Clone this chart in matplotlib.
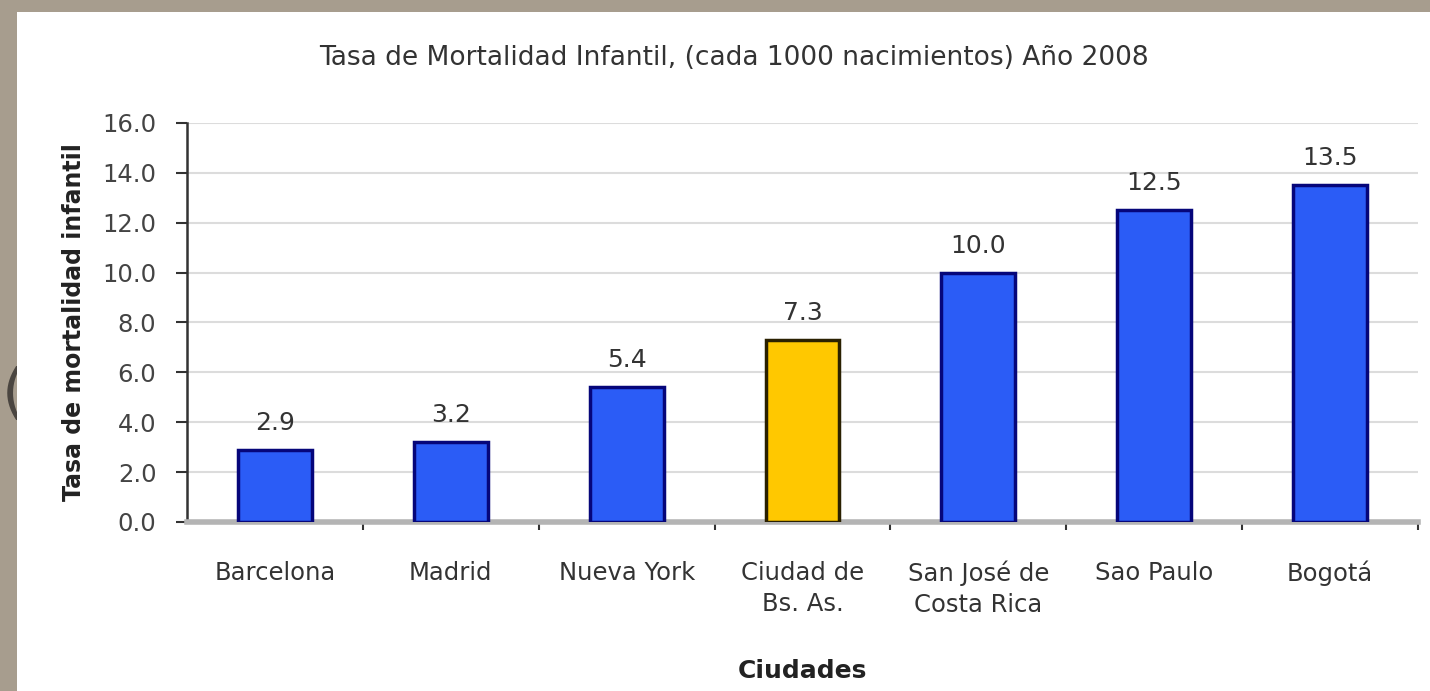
import matplotlib
matplotlib.use("Agg")
import matplotlib.pyplot as plt
from matplotlib.patches import Rectangle
from matplotlib.ticker import FixedLocator

# Data
ciudades = ["Barcelona", "Madrid", "Nueva York", "Ciudad de\nBs. As.",
            "San José de\nCosta Rica", "Sao Paulo", "Bogotá"]
tasas = [2.9, 3.2, 5.4, 7.3, 10.0, 12.5, 13.5]
destacada = "Ciudad de\nBs. As."

plt.rcParams['font.family'] = ['DejaVu Sans']

fig = plt.figure(figsize=(14.3, 6.91), dpi=100)
fig.patch.set_facecolor('#a79d8e')

# white slide panel
fig.patches.append(Rectangle((17 / 1430, 0), 1, (691 - 12) / 691,
                             transform=fig.transFigure, facecolor='white',
                             edgecolor='none', zorder=-5))
fig.text(0.001, 0.428, "(", fontsize=44, color='#4a4540', va='center',
         zorder=-6)

ax = fig.add_axes([0.1308, 0.2446, 0.8608, 0.5774])
ax.set_facecolor('none')

colores = ['#ffc800' if c == destacada else '#2b5cf6' for c in ciudades]
bordes = ['#2a2000' if c == destacada else '#06067a' for c in ciudades]
x = range(len(ciudades))
bars = ax.bar(x, tasas, width=0.42, color=colores, edgecolor=bordes,
              linewidth=2.5, zorder=3)

for xi, v in zip(x, tasas):
    ax.text(xi, v + 0.6, f"{v:.1f}", ha='center', va='bottom',
            fontsize=18, color='#333333')

ax.set_xlim(-0.5, len(ciudades) - 0.5)
ax.set_ylim(0, 16)
ax.set_yticks([i * 2 for i in range(9)])
ax.set_yticklabels([f"{i * 2:.1f}" for i in range(9)], fontsize=17.5,
                   color='#444444')
ax.yaxis.grid(True, color='#dcdcdc', linewidth=1.5, zorder=0)
ax.set_axisbelow(True)

ax.set_xticks(list(x))
ax.set_xticklabels(ciudades, fontsize=17.5, color='#333333', linespacing=1.35)
ax.tick_params(axis='x', which='major', length=0, pad=28)
ax.xaxis.set_minor_locator(FixedLocator([i + 0.5 for i in range(len(ciudades))]))
ax.tick_params(axis='x', which='minor', length=6, width=1.5, color='#333333',
               direction='out')
ax.tick_params(axis='y', length=8, width=1.5, color='#333333', pad=14)

for s in ['top', 'right']:
    ax.spines[s].set_visible(False)
ax.spines['bottom'].set_color('#b4b4b4')
ax.spines['bottom'].set_linewidth(4)
ax.spines['left'].set_color('#333333')
ax.spines['left'].set_linewidth(1.8)

ax.set_ylabel("Tasa de mortalidad infantil", fontsize=17, fontweight='bold',
              color='#222222', labelpad=12)
ax.set_xlabel("Ciudades", fontsize=18, fontweight='bold', color='#222222',
              labelpad=30)
fig.text(0.513, 0.916, "Tasa de Mortalidad Infantil, (cada 1000 nacimientos) Año 2008",
         ha='center', va='center', fontsize=19, color='#333333')

fig.savefig("out.png", dpi=100)
